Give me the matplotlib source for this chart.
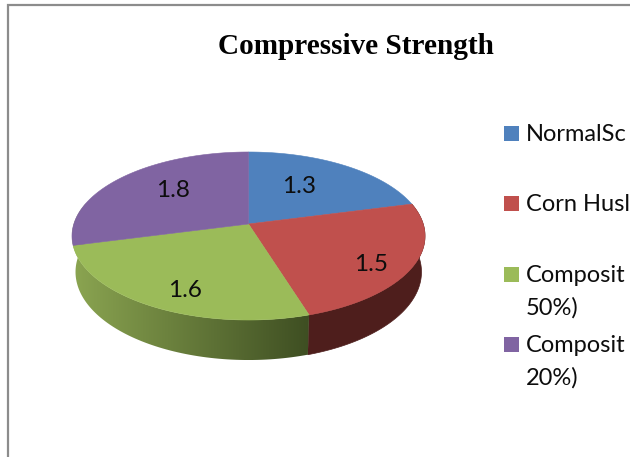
import numpy as np
import matplotlib
matplotlib.use("Agg")
import matplotlib.pyplot as plt
from matplotlib.patches import Polygon, Rectangle

title = "Compressive Strength"
values = [1.3, 1.5, 1.6, 1.8]
value_labels = ["1.3", "1.5", "1.6", "1.8"]
colors = ["#4f81bd", "#c0504d", "#9bbb59", "#8064a2"]
legend_lines = [["NormalSc"], ["Corn Husl"], ["Composit", "50%)"], ["Composit", "20%)"]]

# layout, in pixels of the 630x457 canvas
CX, CY = 248.5, 224.0
B, A, K = 174.7, 82.3, 1 / 7
DEPTH, BOTTOM_X, BOTTOM_Y = 35.4, 0.98, 1.048
label_pos = [(299, 193), (371, 271), (185, 297), (173, 197)]
swatch_top = [126, 196, 267, 337]
legend_baselines = [[141], [211], [282, 315], [352, 385]]

fig = plt.figure(figsize=(6.3, 4.57), dpi=100)
ax = fig.add_axes([0, 0, 1, 1])
ax.set_xlim(0, 630)
ax.set_ylim(457, 0)
ax.axis("off")


def rim(deg, top=True):
    t = np.radians(deg)
    u, v = np.sin(t), np.cos(t)
    d = 1 + K * v
    x, y = B * u / d, A * v / d
    if top:
        return np.column_stack([CX + x, CY - y])
    return np.column_stack([CX + BOTTOM_X * x, CY + DEPTH - BOTTOM_Y * y])


edges = np.concatenate([[0], np.cumsum(values)]) / sum(values) * 360

# side walls (only the red and green slices face the viewer)
red_a = np.linspace(edges[1], edges[2], 80)
red_wall = np.vstack([rim(red_a), rim(red_a[::-1], False)])
ax.add_patch(Polygon(red_wall, closed=True, fc="#4e1e1c", ec="#4e1e1c", lw=0.5, zorder=2))

green_a = np.linspace(edges[2], 285, 100)
green_wall = np.vstack([rim(green_a), rim(green_a[::-1], False)])
clip = Polygon(green_wall, closed=True, fc="none", ec="none", transform=ax.transData)
ax.add_patch(clip)
x0, x1 = green_wall[:, 0].min(), green_wall[:, 0].max()
y0, y1 = green_wall[:, 1].min(), green_wall[:, 1].max()
ramp = np.linspace(0, 1, 256)[None, :, None]
left, right = np.array([139, 165, 81]) / 255, np.array([62, 78, 34]) / 255
img = ax.imshow(left + (right - left) * ramp, extent=(x0, x1, y1, y0), aspect="auto", zorder=2)
img.set_clip_path(clip)
ax.set_xlim(0, 630)
ax.set_ylim(457, 0)

# top faces
for i, c in enumerate(colors):
    a = np.linspace(edges[i], edges[i + 1], 120)
    pts = np.vstack([[CX, CY], rim(a)])
    ax.add_patch(Polygon(pts, closed=True, fc=c, ec=c, lw=0.4, zorder=3))

for s, (x, y) in zip(value_labels, label_pos):
    ax.text(x, y, s, family="Lato", fontsize=17.5, color="#0d0d0d", ha="center", va="baseline", zorder=4)

# legend
for c, top, lines, bases in zip(colors, swatch_top, legend_lines, legend_baselines):
    ax.add_patch(Rectangle((504, top), 15, 15, fc=c, ec="none", zorder=3))
    for s, b in zip(lines, bases):
        ax.text(526, b, s, family="Lato", fontsize=17, color="#0d0d0d", ha="left", va="baseline", zorder=4)

ax.text(356, 54, title, family="Liberation Serif", weight="bold", fontsize=21.1,
        color="black", ha="center", va="baseline", zorder=4)

# chart-area border, cropped on the right and at the bottom
ax.plot([8, 8, 630], [457, 5.3, 5.3], color="#8c8c8c", lw=1.6, solid_joinstyle="miter", zorder=1)

fig.savefig("out.png", dpi=100, facecolor="white")
